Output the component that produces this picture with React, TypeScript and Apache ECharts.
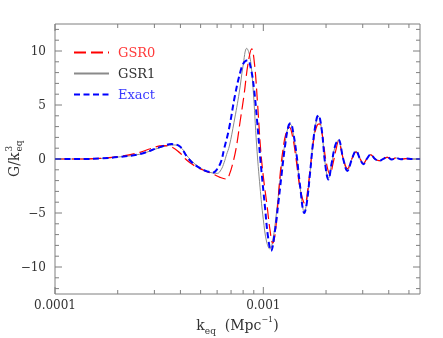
import React, { useEffect, useRef } from 'react';
import * as echarts from 'echarts';

const X_MIN = 0.0001;
const X_MAX = 0.00565;
const Y_MIN = -12.5;
const Y_MAX = 12.5;

const xMajorTicks = [0.0001, 0.001];
const xTickLabels = ['0.0001', '0.001'];
const xMinorTicks = [0.0002, 0.0003, 0.0004, 0.0005, 0.0006, 0.0007, 0.0008, 0.0009, 0.002, 0.003, 0.004, 0.005];
const yMajorTicks = [-10, -5, 0, 5, 10];
const yTickLabels = ['\u221210', '\u22125', '0', '5', '10'];
const yMinorTicks = [-12, -11, -9, -8, -7, -6, -4, -3, -2, -1, 1, 2, 3, 4, 6, 7, 8, 9, 11, 12];

const exactK = [1.0e-4, 1.318e-4, 1.644e-4, 2.051e-4, 2.559e-4, 3.192e-4, 3.633e-4, 3.981e-4, 4.302e-4, 4.597e-4, 4.966e-4, 5.367e-4, 5.754e-4, 5.995e-4, 6.266e-4, 6.476e-4, 6.844e-4, 7.313e-4, 7.815e-4, 8.123e-4, 8.416e-4, 8.729e-4, 9.023e-4, 9.327e-4, 9.674e-4, 1.019e-3, 1.053e-3, 1.089e-3, 1.138e-3, 1.180e-3, 1.226e-3, 1.271e-3, 1.318e-3, 1.351e-3, 1.393e-3, 1.447e-3, 1.501e-3, 1.574e-3, 1.616e-3, 1.676e-3, 1.739e-3, 1.805e-3, 1.837e-3, 1.907e-3, 1.978e-3, 2.052e-3, 2.130e-3, 2.210e-3, 2.292e-3, 2.422e-3, 2.532e-3, 2.657e-3, 2.786e-3, 2.912e-3, 3.020e-3, 3.136e-3, 3.278e-3, 3.438e-3, 3.605e-3, 3.768e-3, 3.938e-3, 4.134e-3, 4.335e-3, 4.581e-3, 4.842e-3, 5.175e-3, 5.653e-3];
const exactG = [0, 0, 0.05, 0.2, 0.46, 1.1, 1.38, 1.15, 0.2, -0.4, -0.85, -1.15, -1.24, -0.95, -0.25, 0.9, 2.8, 5.9, 8.3, 9.0, 9.15, 8.3, 6.5, 3.6, 0, -4.5, -7.2, -8.5, -6.6, -4.1, -1.3, 1.2, 3.0, 3.3, 2.4, 0.26, -2.5, -5.0, -4.1, -1.3, 1.8, 3.8, 4.05, 2.7, -0.35, -1.9, -0.35, 1.2, 1.8, -0.05, -1.1, -0.05, 0.75, 0, -0.48, 0, 0.42, 0, -0.18, 0.02, 0.18, -0.05, 0.1, -0.02, 0.04, 0, 0];

const gsr1K = [1.0e-4, 1.318e-4, 1.644e-4, 2.051e-4, 2.559e-4, 3.192e-4, 3.687e-4, 3.981e-4, 4.302e-4, 4.597e-4, 4.966e-4, 5.367e-4, 5.735e-4, 6.015e-4, 6.266e-4, 6.476e-4, 6.658e-4, 6.868e-4, 7.233e-4, 7.670e-4, 7.989e-4, 8.323e-4, 8.632e-4, 8.923e-4, 9.293e-4, 9.642e-4, 1.000e-3, 1.038e-3, 1.077e-3, 1.113e-3, 1.151e-3, 1.190e-3, 1.229e-3, 1.271e-3, 1.318e-3, 1.351e-3, 1.393e-3, 1.447e-3, 1.501e-3, 1.574e-3, 1.616e-3, 1.676e-3, 1.739e-3, 1.805e-3, 1.837e-3, 1.907e-3, 1.978e-3, 2.052e-3, 2.130e-3, 2.210e-3, 2.292e-3, 2.422e-3, 2.532e-3, 2.657e-3, 2.786e-3, 2.912e-3, 3.020e-3, 3.136e-3, 3.278e-3, 3.438e-3, 3.605e-3, 3.768e-3, 3.938e-3, 4.134e-3, 4.335e-3, 4.581e-3, 4.842e-3, 5.175e-3, 5.653e-3];
const gsr1G = [0, 0, 0.05, 0.2, 0.45, 1.05, 1.3, 1.15, 0.3, -0.3, -0.8, -1.15, -1.3, -1.33, -1.0, -0.35, 0.4, 1.2, 3.4, 6.2, 8.6, 10.25, 9.4, 6.6, 1.2, -2.6, -5.6, -7.7, -8.35, -7.4, -5.3, -2.8, -0.5, 1.5, 3.0, 3.2, 2.3, 0.1, -2.6, -4.9, -4.0, -1.2, 1.8, 3.7, 3.95, 2.6, -0.35, -1.8, -0.35, 1.15, 1.75, -0.05, -1.05, -0.05, 0.72, 0, -0.46, 0, 0.4, 0, -0.17, 0.02, 0.17, -0.05, 0.1, -0.02, 0.04, 0, 0];

const gsr0K = [1.0e-4, 1.318e-4, 1.644e-4, 2.051e-4, 2.559e-4, 2.858e-4, 3.311e-4, 3.646e-4, 3.981e-4, 4.208e-4, 4.446e-4, 4.789e-4, 5.248e-4, 5.735e-4, 6.194e-4, 6.673e-4, 6.882e-4, 7.113e-4, 7.394e-4, 7.728e-4, 8.076e-4, 8.441e-4, 8.794e-4, 9.071e-4, 9.377e-4, 9.696e-4, 1.0023e-3, 1.042e-3, 1.077e-3, 1.110e-3, 1.138e-3, 1.170e-3, 1.203e-3, 1.243e-3, 1.285e-3, 1.333e-3, 1.381e-3, 1.436e-3, 1.501e-3, 1.586e-3, 1.630e-3, 1.685e-3, 1.752e-3, 1.811e-3, 1.857e-3, 1.924e-3, 2.000e-3, 2.090e-3, 2.161e-3, 2.234e-3, 2.292e-3, 2.422e-3, 2.532e-3, 2.657e-3, 2.786e-3, 2.912e-3, 3.020e-3, 3.136e-3, 3.278e-3, 3.438e-3, 3.605e-3, 3.768e-3, 3.938e-3, 4.134e-3, 4.335e-3, 4.581e-3, 4.842e-3, 5.175e-3, 5.653e-3];
const gsr0G = [0, 0, 0.06, 0.25, 0.62, 0.95, 1.24, 1.1, 0.55, 0.05, -0.35, -0.74, -1.1, -1.4, -1.7, -1.86, -1.4, -0.5, 0.93, 3.4, 5.9, 8.8, 10.2, 8.8, 5.2, 1.0, -1.8, -4.3, -6.6, -7.8, -7.0, -4.5, -1.5, 0.9, 2.4, 2.95, 2.1, 0, -2.7, -4.15, -3.0, -0.6, 2.0, 3.1, 3.25, 2.1, -0.2, -1.45, -0.4, 0.9, 1.6, 0, -0.9, 0, 0.65, 0.05, -0.42, 0, 0.38, 0, -0.15, 0.03, 0.15, -0.04, 0.1, -0.02, 0.04, 0, 0];

const FRAME = '#7f7f7f';
const TEXT = '#333333';
const SERIF = '"DejaVu Serif"';

const zip = (k: number[], g: number[]) => k.map((v, i) => [v, g[i]]);

export default function App() {
  const ref = useRef<HTMLDivElement>(null);
  useEffect(() => {
    if (!ref.current) return;
    const chart = echarts.init(ref.current, null, { renderer: 'svg' });

    const yTickData = [
      ...yMajorTicks.map((v, i) => [X_MIN, v, 1, i]),
      ...yMinorTicks.map((v) => [X_MIN, v, 0, -1]),
    ];
    const xTickData = [
      ...xMajorTicks.map((v, i) => [v, Y_MIN, 1, i]),
      ...xMinorTicks.map((v) => [v, Y_MIN, 0, -1]),
    ];

    const lineBase = {
      type: 'line',
      showSymbol: false,
      symbol: 'none',
      smooth: 0.4,
      z: 3,
    };

    chart.setOption({
      animation: false,
      grid: {
        left: 55, top: 24, width: 365, height: 270,
        show: true, borderColor: FRAME, borderWidth: 1, backgroundColor: 'transparent',
      },
      xAxis: {
        type: 'log', logBase: 10, min: X_MIN, max: X_MAX,
        axisLine: { show: false }, axisTick: { show: false }, axisLabel: { show: false },
        splitLine: { show: false }, minorTick: { show: false },
      },
      yAxis: {
        type: 'value', min: Y_MIN, max: Y_MAX,
        axisLine: { show: false }, axisTick: { show: false }, axisLabel: { show: false },
        splitLine: { show: false },
      },
      legend: {
        orient: 'vertical', left: 73, top: 46, padding: 0,
        itemWidth: 35, itemHeight: 14, itemGap: 8,
        itemStyle: { opacity: 0, borderWidth: 0 },
        textStyle: { fontFamily: SERIF, fontSize: 13, padding: [0, 0, 0, 4] },
        data: [
          { name: 'GSR0', textStyle: { color: '#ff3a3a' } },
          { name: 'GSR1', textStyle: { color: TEXT } },
          { name: 'Exact', textStyle: { color: '#3a3aff' } },
        ],
      },
      graphic: [
        {
          type: 'text', x: 237.5, y: 325,
          style: {
            text: '{m|k}{s|eq}{m|  (Mpc}{p|\u22121}{m|)}',
            align: 'center', verticalAlign: 'middle', textAlign: 'center', textVerticalAlign: 'middle',
            fill: TEXT,
            rich: {
              m: { fontFamily: SERIF, fontSize: 14, lineHeight: 20, verticalAlign: 'middle', color: TEXT },
              s: { fontFamily: SERIF, fontSize: 9, lineHeight: 9, verticalAlign: 'bottom', color: TEXT },
              p: { fontFamily: SERIF, fontSize: 8, lineHeight: 8, verticalAlign: 'top', color: TEXT },
            },
          },
        },
        {
          type: 'group', x: 14, y: 159, rotation: Math.PI / 2,
          children: [
            { type: 'text', x: -18, y: 0, style: { text: 'G/k', font: `14px ${SERIF}`, fill: TEXT, align: 'left', verticalAlign: 'middle' } },
            { type: 'text', x: 7.5, y: -5, style: { text: '3', font: `9px ${SERIF}`, fill: TEXT, align: 'left', verticalAlign: 'middle' } },
            { type: 'text', x: 7.5, y: 5, style: { text: 'eq', font: `9px ${SERIF}`, fill: TEXT, align: 'left', verticalAlign: 'middle' } },
          ],
        },
      ],
      series: [
        {
          ...lineBase, name: 'GSR1', data: zip(gsr1K, gsr1G), color: '#8a8a8a',
          lineStyle: { color: '#8a8a8a', width: 1, type: 'solid' },
        },
        {
          ...lineBase, name: 'GSR0', data: zip(gsr0K, gsr0G), color: '#ff0000',
          lineStyle: { color: '#ff0000', width: 1.2, type: [12, 5] },
        },
        {
          ...lineBase, name: 'Exact', data: zip(exactK, exactG), color: '#0000ff',
          lineStyle: { color: '#0000ff', width: 2, type: [6, 3.5] },
        },
        {
          type: 'custom', name: 'yticks', data: yTickData, clip: false, silent: true, z: 5,
          encode: { x: 0, y: 1 },
          renderItem: (params: any, api: any) => {
            const v = api.value(1);
            const major = api.value(2) === 1;
            const li = api.value(3);
            const p = api.coord([X_MIN, v]);
            const q = api.coord([X_MAX, v]);
            const len = major ? 7 : 4;
            const st = { stroke: FRAME, lineWidth: 1 };
            const children: any[] = [
              { type: 'line', shape: { x1: p[0], y1: p[1], x2: p[0] + len, y2: p[1] }, style: st },
              { type: 'line', shape: { x1: q[0], y1: q[1], x2: q[0] - len, y2: q[1] }, style: st },
            ];
            if (major && li >= 0) {
              children.push({
                type: 'text', x: p[0] - 9, y: p[1],
                style: { text: yTickLabels[li], font: `12px ${SERIF}`, fill: TEXT, align: 'right', verticalAlign: 'middle' },
              });
            }
            return { type: 'group', children };
          },
        },
        {
          type: 'custom', name: 'xticks', data: xTickData, clip: false, silent: true, z: 5,
          encode: { x: 0, y: 1 },
          renderItem: (params: any, api: any) => {
            const v = api.value(0);
            const major = api.value(2) === 1;
            const li = api.value(3);
            const p = api.coord([v, Y_MIN]);
            const q = api.coord([v, Y_MAX]);
            const len = major ? 7 : 4;
            const st = { stroke: FRAME, lineWidth: 1 };
            const children: any[] = [
              { type: 'line', shape: { x1: p[0], y1: p[1], x2: p[0], y2: p[1] - len }, style: st },
              { type: 'line', shape: { x1: q[0], y1: q[1], x2: q[0], y2: q[1] + len }, style: st },
            ];
            if (major && li >= 0) {
              children.push({
                type: 'text', x: p[0], y: p[1] + 11,
                style: { text: xTickLabels[li], font: `12px ${SERIF}`, fill: TEXT, align: 'center', verticalAlign: 'middle' },
              });
            }
            return { type: 'group', children };
          },
        },
      ],
    });
    return () => chart.dispose();
  }, []);
  return <div ref={ref} style={{ position: 'fixed', left: 0, top: 0, width: 443, height: 338 }} />;
}
